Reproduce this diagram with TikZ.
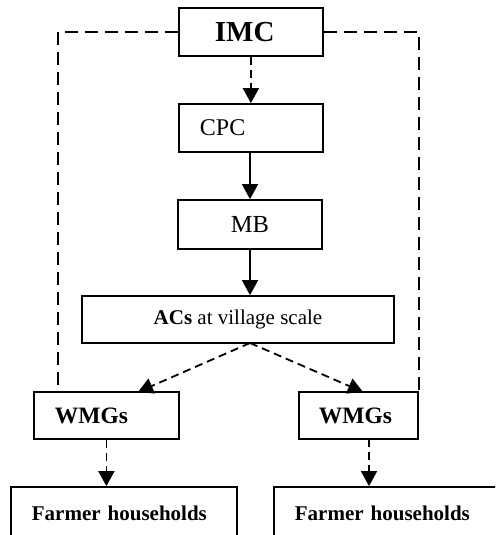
\documentclass[tikz,border=0pt]{standalone}
\usepackage{fontspec}
\setmainfont{Liberation Serif}
\usetikzlibrary{arrows.meta,positioning}

\begin{document}
\begin{tikzpicture}[x=1pt,y=-1pt,line width=1.8pt,
  box/.style={draw,rectangle,inner sep=0pt,minimum height=48pt},
  leftbox/.style={box,align=left,anchor=west,inner xsep=21pt},
  dashline/.style={dash pattern=on 13pt off 7pt},
  dasharrow/.style={tip,dash pattern=on 8pt off 5pt},
  tip/.style={-{Triangle[length=15pt,width=16pt]}}]
\useasboundingbox (0,0) rectangle (495,535);
\clip (0,0) rectangle (495,535);

% top of the chain
\node[leftbox,text width=72pt,inner xsep=36pt,font=\fontsize{29}{30}\selectfont\bfseries] (imc) at (178,32) {IMC};
\node[leftbox,text width=102pt,font=\fontsize{24}{26}\selectfont] (cpc) at (178,128) {CPC};
\node[box,minimum width=144pt,minimum height=49pt,font=\fontsize{24.5}{26}\selectfont] (mb) at (250,224.5) {MB};
\node[box,minimum width=312pt,minimum height=47pt,font=\fontsize{21}{23}\selectfont] (acs) at (238,319.5) {\textbf{ACs} at village scale};

% water groups
\node[leftbox,text width=103pt,minimum height=47pt,font=\fontsize{23.5}{25}\selectfont\bfseries] (wmgL) at (33,415.5) {WMGs};
\node[leftbox,text width=79pt,minimum height=47pt,inner xsep=20pt,font=\fontsize{23.5}{25}\selectfont\bfseries] (wmgR) at (298,415.5) {WMGs};

% households (cut at the bottom)
\node[leftbox,text width=184pt,minimum height=52pt,font=\fontsize{21}{23}\selectfont\bfseries] (farmL) at (10,513) {Farmer households};
\node[leftbox,text width=220pt,minimum height=52pt,font=\fontsize{21}{23}\selectfont\bfseries] (farmR) at (273,513) {Farmer households};

% helper points
\coordinate (lfoot) at (58,392);
\coordinate (split) at (250,343);
\coordinate (tipL) at (138,392);
\coordinate (tipR) at (363,392);
\coordinate (downR) at (369,439);

% dashed links
\draw[dashline] (imc.west) -| (lfoot);
\draw[dashline] (imc.east) -| (wmgR.north east);
\draw[dasharrow] (imc.south) -- (cpc.north -| imc.south);
\draw[dasharrow] (split) -- (tipL);
\draw[dasharrow] (split) -- (tipR);
\draw[dasharrow] (wmgL.south) -- (wmgL.south |- farmL.north);
\draw[dasharrow] (downR) -- (downR |- farmR.north);

% solid links
\draw[tip] (cpc.south -| mb.north) -- (mb.north);
\draw[tip] (mb.south) -- (mb.south |- acs.north);
\end{tikzpicture}
\end{document}
